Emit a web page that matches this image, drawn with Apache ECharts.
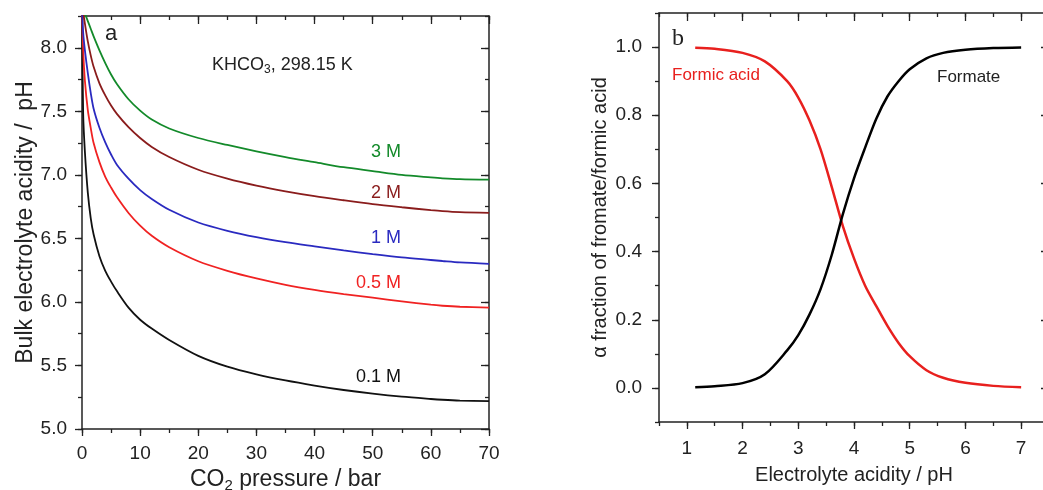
<!DOCTYPE html>
<html>
<head>
<meta charset="utf-8">
<script src="https://cdn.jsdelivr.net/npm/echarts@6/dist/echarts.min.js"></script>
<style>
html, body { margin: 0; padding: 0; background: #fff; }
#chart { width: 1043px; height: 490px; }
</style>
</head>
<body>
<div id="chart"></div>
<script>
// panel a: CO2 pressure / bar
var pressure = [0, 0.2, 0.5, 1, 1.5, 2, 3, 4, 5, 6, 8, 10, 12, 15, 20, 25, 30, 35, 40, 45, 50, 55, 60, 62, 65, 70];
// bulk pH for each KHCO3 concentration
var ph01M = [8.30, 7.48, 7.18, 6.86, 6.66, 6.53, 6.36, 6.245, 6.16, 6.085, 5.955, 5.86, 5.79, 5.70, 5.575, 5.49, 5.43, 5.382, 5.342, 5.307, 5.278, 5.254, 5.236, 5.23, 5.224, 5.22];
var ph05M = [8.32, 7.98, 7.74, 7.51, 7.37, 7.25, 7.10, 6.985, 6.90, 6.825, 6.70, 6.60, 6.52, 6.43, 6.32, 6.245, 6.185, 6.135, 6.095, 6.062, 6.033, 6.005, 5.978, 5.97, 5.962, 5.955];
var ph1M = [8.32, 8.12, 7.98, 7.80, 7.645, 7.52, 7.37, 7.255, 7.16, 7.08, 6.97, 6.88, 6.81, 6.725, 6.625, 6.56, 6.51, 6.47, 6.437, 6.405, 6.376, 6.35, 6.33, 6.322, 6.311, 6.30];
var ph2M = [8.33, 8.28, 8.19, 8.05, 7.94, 7.85, 7.72, 7.625, 7.545, 7.48, 7.375, 7.29, 7.22, 7.14, 7.04, 6.97, 6.915, 6.87, 6.832, 6.80, 6.77, 6.745, 6.722, 6.714, 6.706, 6.70];
var ph3M = [8.34, 8.32, 8.27, 8.21, 8.15, 8.09, 7.98, 7.88, 7.79, 7.715, 7.595, 7.505, 7.435, 7.365, 7.29, 7.235, 7.185, 7.14, 7.10, 7.06, 7.03, 7.00, 6.98, 6.973, 6.966, 6.962];
var concNames = ['0.1 M', '0.5 M', '1 M', '2 M', '3 M'];

// panel b: alpha fraction vs pH
var phAxis = [1.15, 1.5, 2.0, 2.4, 2.8, 3.0, 3.2, 3.4, 3.6, 3.8, 4.0, 4.2, 4.4, 4.6, 4.8, 5.0, 5.3, 5.6, 6.0, 6.5, 7.0];
var formicAcid = [0.998, 0.995, 0.983, 0.958, 0.90, 0.852, 0.785, 0.70, 0.59, 0.475, 0.38, 0.30, 0.24, 0.182, 0.132, 0.093, 0.052, 0.030, 0.015, 0.006, 0.002];
var formate = [0.002, 0.005, 0.014, 0.04, 0.11, 0.155, 0.215, 0.29, 0.39, 0.51, 0.615, 0.705, 0.79, 0.855, 0.90, 0.935, 0.967, 0.983, 0.992, 0.997, 0.999];

var FONT = 'Liberation Sans, Arial, sans-serif';
var INK = '#222';
var colors = ['#111111', '#f02222', '#2a2ac0', '#8a1c1c', '#138a2a'];

function pairs (xs, ys) {
    return xs.map(function (x, i) { return [x, ys[i]]; });
}

function onStep (v, step) {
    var k = v / step;
    return Math.abs(k - Math.round(k)) < 1e-6;
}

function majorList (min, max, major) {
    var out = [];
    for (var k = Math.ceil(min / major - 1e-9); k * major <= max + 1e-9; k++) {
        out.push(+(k * major).toFixed(6));
    }
    return out;
}

// four axes per side pair: outer (labels), outer minor, mirrored inner, inner minor
function sideAxes (dim, gridIndex, min, max, step, major, digits, name, nameGap, nameStyle, labelMargin) {
    var pos = dim === 'x' ? ['bottom', 'top'] : ['left', 'right'];
    var majors = majorList(min, max, major);
    var line = { color: INK, width: 1.5 };
    var tick = { color: INK, width: 1.3 };
    function base (p) {
        return {
            type: 'value', gridIndex: gridIndex, position: p,
            min: min, max: max, interval: step,
            splitLine: { show: false },
            axisLine: { show: true, onZero: false, lineStyle: line },
            axisLabel: { show: false }
        };
    }
    var outer = base(pos[0]);
    outer.axisTick = { show: true, inside: false, length: 7, customValues: majors, lineStyle: tick };
    outer.axisLabel = {
        show: true, margin: labelMargin, fontFamily: FONT, fontSize: 19, color: INK,
        formatter: function (v) { return onStep(v, major) ? v.toFixed(digits) : ''; }
    };
    outer.name = name;
    outer.nameLocation = 'middle';
    outer.nameGap = nameGap;
    outer.nameTextStyle = nameStyle;
    var outerMinor = base(pos[0]);
    outerMinor.axisLine.show = false;
    outerMinor.axisTick = { show: true, inside: false, length: 4, lineStyle: tick };
    var inner = base(pos[1]);
    inner.axisTick = { show: true, inside: true, length: 8, customValues: majors, lineStyle: tick };
    var innerMinor = base(pos[1]);
    innerMinor.axisLine.show = false;
    innerMinor.axisTick = { show: true, inside: true, length: 4, lineStyle: tick };
    return [outer, outerMinor, inner, innerMinor];
}

function initChart () {
    var chart = echarts.init(document.getElementById('chart'), null, { renderer: 'canvas' });

    var xA = sideAxes('x', 0, 0, 70, 5, 10, 0, '{n|CO}{s|2}{n| pressure / bar}', 34, {
        rich: {
            n: { fontFamily: FONT, fontSize: 23, color: INK },
            s: { fontFamily: FONT, fontSize: 15, color: INK, padding: [12, 0, 0, 0] }
        }
    }, 15);
    var yA = sideAxes('y', 0, 5, 8.25, 0.25, 0.5, 1, 'Bulk electrolyte acidity /  pH', 45, {
        fontFamily: FONT, fontSize: 23, color: INK
    }, 15);
    var xB = sideAxes('x', 1, 0.5, 7.5, 0.5, 1, 0, 'Electrolyte acidity / pH', 43, {
        fontFamily: FONT, fontSize: 20, color: INK
    }, 17);
    var yB = sideAxes('y', 1, -0.1, 1.1, 0.1, 0.2, 1, '\u03b1 fraction of fromate/formic acid', 49, {
        fontFamily: FONT, fontSize: 20, color: INK
    }, 17);

    var phSets = [ph01M, ph05M, ph1M, ph2M, ph3M];
    var series = phSets.map(function (ys, i) {
        return {
            name: concNames[i], type: 'line', xAxisIndex: 0, yAxisIndex: 0,
            data: pairs(pressure, ys), showSymbol: false, smooth: 0.3,
            lineStyle: { color: colors[i], width: 1.8 }, clip: true
        };
    });
    series.push({
        name: 'Formic acid', type: 'line', xAxisIndex: 4, yAxisIndex: 4,
        data: pairs(phAxis, formicAcid), showSymbol: false, smooth: 0.3,
        lineStyle: { color: '#e8201e', width: 2.5 }
    });
    series.push({
        name: 'Formate', type: 'line', xAxisIndex: 4, yAxisIndex: 4,
        data: pairs(phAxis, formate), showSymbol: false, smooth: 0.3,
        lineStyle: { color: '#000', width: 2.5 }
    });

    // text annotations
    var labelY = [377, 283, 238, 193, 152];
    var graphic = [
        { type: 'text', x: 111, y: 34, style: { text: 'a', fontFamily: FONT, fontSize: 22, fill: INK, align: 'center', verticalAlign: 'middle' } },
        { type: 'text', x: 212, y: 65, style: {
            text: '{n|KHCO}{s|3}{n|, 298.15 K}', align: 'left', verticalAlign: 'middle',
            rich: {
                n: { fontFamily: FONT, fontSize: 18, fill: INK },
                s: { fontFamily: FONT, fontSize: 12, fill: INK, padding: [9, 0, 0, 0] }
            }
        } },
        { type: 'text', x: 672, y: 39, style: { text: 'b', fontFamily: 'Liberation Serif, Times New Roman, serif', fontSize: 24, fill: INK, align: 'left', verticalAlign: 'middle' } },
        { type: 'text', x: 672, y: 75, style: { text: 'Formic acid', fontFamily: FONT, fontSize: 17, fill: '#e8201e', align: 'left', verticalAlign: 'middle' } },
        { type: 'text', x: 937, y: 77, style: { text: 'Formate', fontFamily: FONT, fontSize: 17, fill: INK, align: 'left', verticalAlign: 'middle' } }
    ];
    concNames.forEach(function (t, i) {
        graphic.push({ type: 'text', x: 401, y: labelY[i], style: { text: t, fontFamily: FONT, fontSize: 18, fill: colors[i], align: 'right', verticalAlign: 'middle' } });
    });

    var option = {
        animation: false,
        backgroundColor: '#fff',
        grid: [
            { left: 82, top: 16, width: 407, height: 413, outerBoundsMode: 'none' },
            { left: 659, top: 13, width: 390, height: 409, outerBoundsMode: 'none' }
        ],
        xAxis: xA.concat(xB),
        yAxis: yA.concat(yB),
        series: series,
        graphic: graphic
    };
    chart.setOption(option);
    return chart;
}

var chart = initChart();
window.onresize = function () {
    chart.resize();
};
</script>
</body>
</html>
